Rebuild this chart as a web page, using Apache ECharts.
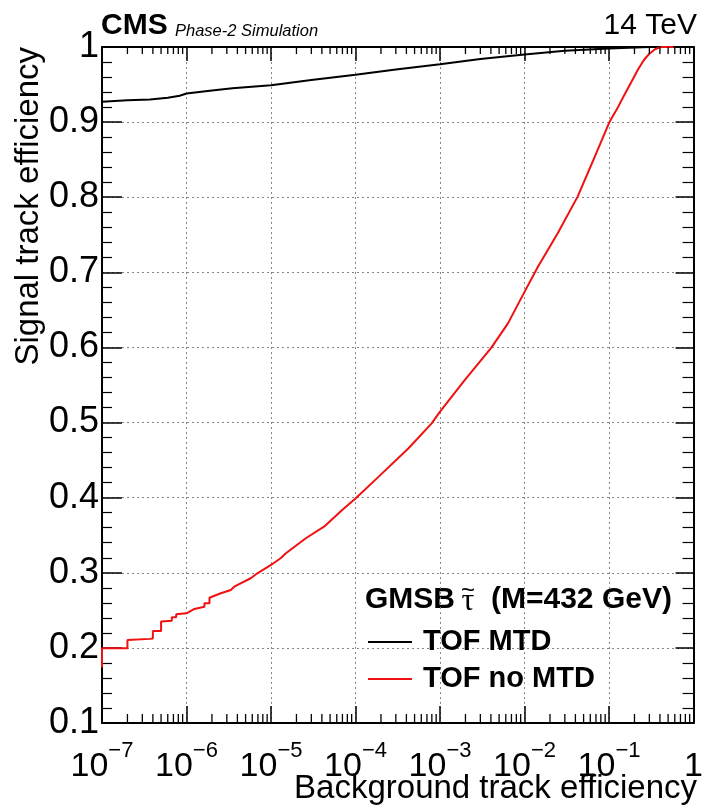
<!DOCTYPE html>
<html>
<head>
<meta charset="utf-8">
<script src="https://cdn.jsdelivr.net/npm/echarts@6/dist/echarts.min.js"></script>
<style>
  html, body { margin: 0; padding: 0; background: #ffffff; }
  #chart { width: 706px; height: 812px; }
</style>
</head>
<body>
<div id="chart"></div>
<script>
// ROC curves: signal vs background track efficiency (GMSB stau, M = 432 GeV)

const seriesNames = ['TOF MTD', 'TOF no MTD'];

// TOF with MTD timing
const mtdBkg = [1e-7, 2e-7, 3.7e-7, 6e-7, 8.3e-7, 1e-6, 2e-6, 3.5e-6, 1e-5, 3e-5,
  1e-4, 3e-4, 1e-3, 3e-3, 1e-2, 3e-2, 1e-1, 0.3, 1];
const mtdSig = [0.927, 0.929, 0.930, 0.9325, 0.935, 0.938, 0.942, 0.945, 0.949, 0.956,
  0.963, 0.970, 0.977, 0.984, 0.990, 0.995, 0.998, 1.0, 1.0];

// TOF without MTD timing
const noMtdBkg = [1e-7, 1e-7, 2.0e-7, 2.0e-7, 3.7e-7, 4.0e-7, 4.0e-7, 5.0e-7, 5.0e-7, 6.7e-7,
  6.7e-7, 7.55e-7, 7.55e-7, 1e-6, 1.24e-6, 1.63e-6, 1.63e-6, 1.87e-6, 1.87e-6, 2.55e-6,
  3.35e-6, 3.67e-6, 5.75e-6, 6.9e-6, 1e-5, 1.3e-5, 1.5e-5, 2.58e-5, 4.24e-5, 6.95e-5,
  1e-4, 1.88e-4, 4.24e-4, 7.96e-4, 1e-3, 1.97e-3, 4.05e-3, 6.37e-3, 1e-2, 1.44e-2,
  2.47e-2, 4.25e-2, 6.67e-2, 0.1016, 0.125, 0.15, 0.183, 0.22, 0.26, 0.30,
  0.35, 0.40, 0.43, 0.58];
const noMtdSig = [0.174, 0.1995, 0.1995, 0.2105, 0.212, 0.2125, 0.2225, 0.2225, 0.235, 0.236,
  0.2407, 0.2407, 0.2447, 0.246, 0.2518, 0.2549, 0.2594, 0.2594, 0.2668, 0.2727,
  0.2771, 0.2815, 0.2927, 0.2993, 0.3104, 0.3193, 0.326, 0.346, 0.3614, 0.3836,
  0.399, 0.428, 0.4658, 0.499, 0.5145, 0.5567, 0.5997, 0.632, 0.674, 0.7075,
  0.752, 0.8008, 0.852, 0.9006, 0.918, 0.935, 0.953, 0.970, 0.983, 0.991,
  0.997, 0.9995, 1.0, 1.0];

// Axis ranges
const xRange = [1e-7, 1];
const yRange = [0.1, 1];
const yStep = 0.1;

const FONT = '"Liberation Sans", Arial, Helvetica, sans-serif';
const SERIF = '"Liberation Serif", "DejaVu Serif", serif';

function zip(xs, ys) { return xs.map((x, i) => [x, ys[i]]); }

// logarithmic minor tick positions (2..9 within each decade)
const xMinorTicks = [];
for (let e = -7; e < 0; e++) {
  for (let m = 2; m <= 9; m++) xMinorTicks.push([m * Math.pow(10, e), yRange[0]]);
}

function powerLabel(v) {
  const e = Math.round(Math.log10(v));
  if (e === 0) return '{b|1}';
  return '{b|10}{e|\u2212' + (-e) + '}';
}

const chart = echarts.init(document.getElementById('chart'), null, { renderer: 'canvas' });

const frameLine = { show: true, onZero: false, lineStyle: { color: '#000', width: 2 } };
const gridLine = { show: true, lineStyle: { color: '#858585', width: 1, type: [2, 3] } };

chart.setOption({
  animation: false,
  backgroundColor: '#ffffff',
  grid: { left: 102, top: 47, width: 595, height: 676, containLabel: false },
  xAxis: [
    {
      type: 'log', logBase: 10, min: xRange[0], max: xRange[1], splitNumber: 7,
      position: 'bottom',
      axisLine: frameLine,
      axisTick: { show: true, inside: true, length: 17, lineStyle: { color: '#000', width: 1.5 } },
      axisLabel: {
        show: true, margin: 17, formatter: powerLabel, color: '#000',
        rich: {
          b: { fontFamily: FONT, fontSize: 34, lineHeight: 44, verticalAlign: 'bottom', color: '#000' },
          e: { fontFamily: FONT, fontSize: 22, lineHeight: 18, verticalAlign: 'top', color: '#000' }
        }
      },
      splitLine: gridLine
    },
    {
      type: 'log', logBase: 10, min: xRange[0], max: xRange[1], splitNumber: 7,
      position: 'top',
      axisLine: frameLine,
      axisTick: { show: true, inside: true, length: 14, lineStyle: { color: '#000', width: 1.5 } },
      axisLabel: { show: false },
      splitLine: { show: false }
    }
  ],
  yAxis: [
    {
      type: 'value', min: yRange[0], max: yRange[1], interval: yStep,
      position: 'left',
      axisLine: frameLine,
      axisTick: { show: true, inside: true, length: 20, lineStyle: { color: '#000', width: 1.5 } },
      minorTick: { show: true, splitNumber: 5, length: 10, lineStyle: { color: '#000', width: 1.2 } },
      axisLabel: { show: true, margin: 3, color: '#000', fontFamily: FONT, fontSize: 36 },
      splitLine: gridLine
    },
    {
      type: 'value', min: yRange[0], max: yRange[1], interval: yStep,
      position: 'right',
      axisLine: frameLine,
      axisTick: { show: true, inside: true, length: 18, lineStyle: { color: '#000', width: 1.5 } },
      minorTick: { show: true, splitNumber: 5, length: 11, lineStyle: { color: '#000', width: 1.2 } },
      axisLabel: { show: false },
      splitLine: { show: false }
    }
  ],
  legend: {
    data: seriesNames,
    orient: 'vertical',
    left: 368, top: 627, padding: 0,
    icon: 'rect', itemWidth: 44, itemHeight: 2, itemGap: 7,
    selectedMode: false,
    textStyle: { fontFamily: FONT, fontSize: 29, fontWeight: 'bold', color: '#000', lineHeight: 30, padding: [0, 0, 0, 6] }
  },
  series: [
    {
      name: seriesNames[0], type: 'line', data: zip(mtdBkg, mtdSig),
      xAxisIndex: 0, yAxisIndex: 0, showSymbol: false, clip: false, z: 3,
      lineStyle: { color: '#000', width: 2 }, itemStyle: { color: '#000' }
    },
    {
      name: seriesNames[1], type: 'line', data: zip(noMtdBkg, noMtdSig),
      xAxisIndex: 0, yAxisIndex: 0, showSymbol: false, clip: false, z: 4,
      lineStyle: { color: '#f01010', width: 2 }, itemStyle: { color: '#f01010' }
    },
    {
      // logarithmic minor ticks on bottom and top frame edges
      type: 'custom', silent: true, xAxisIndex: 0, yAxisIndex: 0, z: 5, clip: false,
      data: xMinorTicks,
      renderItem: function (params, api) {
        const v = api.value(0);
        const b = api.coord([v, yRange[0]]);
        const t = api.coord([v, yRange[1]]);
        const st = { stroke: '#000', lineWidth: 1.3 };
        return {
          type: 'group', children: [
            { type: 'line', shape: { x1: b[0], y1: b[1], x2: b[0], y2: b[1] - 9 }, style: st },
            { type: 'line', shape: { x1: t[0], y1: t[1], x2: t[0], y2: t[1] + 7 }, style: st }
          ]
        };
      }
    }
  ],
  graphic: [
    { type: 'text', x: 101, y: 26, style: { text: 'CMS', font: 'bold 30px ' + FONT, fill: '#000', align: 'left', verticalAlign: 'middle' } },
    { type: 'text', x: 175, y: 31, style: { text: 'Phase-2 Simulation', font: 'italic 16.5px ' + FONT, fill: '#000', align: 'left', verticalAlign: 'middle' } },
    { type: 'text', x: 697, y: 26, style: { text: '14 TeV', font: '30px ' + FONT, fill: '#000', align: 'right', verticalAlign: 'middle' } },
    { type: 'text', x: 29, y: 47, rotation: Math.PI / 2, style: { text: 'Signal track efficiency', font: '33px ' + FONT, fill: '#000', align: 'right', verticalAlign: 'middle' } },
    { type: 'text', x: 697, y: 789, style: { text: 'Background track efficiency', font: '33px ' + FONT, fill: '#000', align: 'right', verticalAlign: 'middle' } },
    // legend header: GMSB stau (M=432 GeV)
    { type: 'text', x: 365, y: 600, style: { text: 'GMSB', font: 'bold 30px ' + FONT, fill: '#000', align: 'left', verticalAlign: 'middle' } },
    { type: 'text', x: 468, y: 602, style: { text: '\u03c4', font: '32px ' + SERIF, fill: '#000', align: 'center', verticalAlign: 'middle' } },
    { type: 'text', x: 468, y: 591, style: { text: '~', font: '24px ' + FONT, fill: '#000', align: 'center', verticalAlign: 'middle' } },
    { type: 'text', x: 491, y: 600, style: { text: '(M=432 GeV)', font: 'bold 30px ' + FONT, fill: '#000', align: 'left', verticalAlign: 'middle' } }
  ]
});
</script>
</body>
</html>
